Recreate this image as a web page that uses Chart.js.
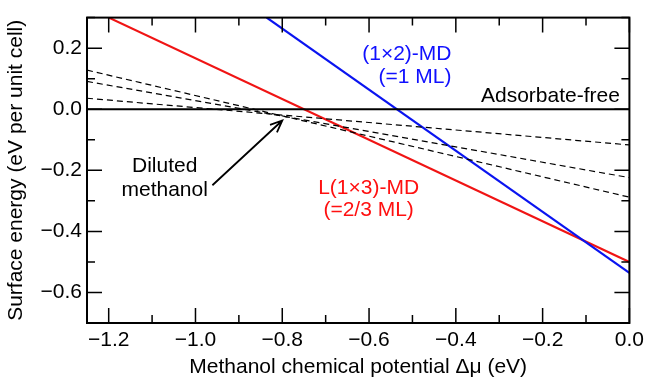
<!DOCTYPE html>
<html>
<head>
<meta charset="utf-8">
<script src="https://cdn.jsdelivr.net/npm/chart.js@4/dist/chart.umd.min.js"></script>
<style>
  html, body { margin: 0; padding: 0; background: #fff; }
  canvas { display: block; }
</style>
</head>
<body>
<canvas id="c" width="649" height="377"></canvas>
<script>
// axis ticks
const xTickVals = [-1.2, -1.0, -0.8, -0.6, -0.4, -0.2, 0.0];
const xTickLabels = ["\u22121.2", "\u22121.0", "\u22120.8", "\u22120.6", "\u22120.4", "\u22120.2", "0.0"];
const xMinorVals = [-1.1, -0.9, -0.7, -0.5, -0.3, -0.1];
const yTickVals = [0.2, 0.0, -0.2, -0.4, -0.6];
const yTickLabels = ["0.2", "0.0", "\u22120.2", "\u22120.4", "\u22120.6"];
const yMinorVals = [0.3, 0.1, -0.1, -0.3, -0.5];

// lines (end points)
const cleanX = [-1.25, 0.0];
const cleanY = [0.0, 0.0];
const mdX = [-0.836, 0.0];          // (1x2)-MD
const mdY = [0.3, -0.536];
const l13X = [-1.2, 0.0];           // L(1x3)-MD
const l13Y = [0.3, -0.5];
const dilX = [-1.25, 0.0];          // diluted methanol
const dilA = [0.128, -0.288];
const dilB = [0.091, -0.224];
const dilC = [0.036, -0.117];

const FONT = '"Liberation Sans", Arial, Helvetica, sans-serif';

function pts(xs, ys) {
  return xs.map((x, i) => ({ x: x, y: ys[i] }));
}

function line(xs, ys, color, width, dash) {
  return {
    data: pts(xs, ys),
    borderColor: color,
    borderWidth: width,
    borderDash: dash || [],
    pointRadius: 0,
    fill: false,
    tension: 0
  };
}

const decor = {
  id: "decor",
  afterDatasetsDraw(chart) {
    const { ctx, chartArea: a, scales: { x, y } } = chart;
    ctx.save();
    ctx.strokeStyle = "#000";
    ctx.lineWidth = 1.5;
    ctx.beginPath();
    const tick = (vals, len) => {
      vals.forEach(v => {
        const px = x.getPixelForValue(v);
        ctx.moveTo(px, a.bottom); ctx.lineTo(px, a.bottom - len);
        ctx.moveTo(px, a.top); ctx.lineTo(px, a.top + len);
      });
    };
    const ytick = (vals, len) => {
      vals.forEach(v => {
        const py = y.getPixelForValue(v);
        ctx.moveTo(a.left, py); ctx.lineTo(a.left + len, py);
        ctx.moveTo(a.right, py); ctx.lineTo(a.right - len, py);
      });
    };
    tick(xTickVals, 15); tick(xMinorVals, 8);
    ytick(yTickVals, 15); ytick(yMinorVals, 8);
    ctx.stroke();

    ctx.lineWidth = 2;
    ctx.strokeRect(a.left, a.top, a.right - a.left, a.bottom - a.top);

    // labels
    ctx.font = "21px " + FONT;
    ctx.textBaseline = "alphabetic";
    const txt = (s, vx, vy, align, color) => {
      ctx.fillStyle = color;
      ctx.textAlign = align;
      ctx.fillText(s, x.getPixelForValue(vx), y.getPixelForValue(vy));
    };
    txt("Adsorbate-free", -0.022, 0.023, "right", "#000");
    txt("(1\u00d72)-MD", -0.41, 0.161, "right", "#1010ff");
    txt("(=1 ML)", -0.41, 0.086, "right", "#1010ff");
    txt("L(1\u00d73)-MD", -0.601, -0.277, "center", "#ff1010");
    txt("(=2/3 ML)", -0.601, -0.349, "center", "#ff1010");
    txt("Diluted", -1.071, -0.204, "center", "#000");
    txt("methanol", -1.071, -0.285, "center", "#000");

    // arrow
    const x0 = x.getPixelForValue(-0.961), y0 = y.getPixelForValue(-0.249);
    const x1 = x.getPixelForValue(-0.8), y1 = y.getPixelForValue(-0.037);
    const ang = Math.atan2(y1 - y0, x1 - x0);
    ctx.lineWidth = 1.8;
    ctx.beginPath();
    ctx.moveTo(x0, y0); ctx.lineTo(x1, y1);
    ctx.moveTo(x1 - 13 * Math.cos(ang - 0.4), y1 - 13 * Math.sin(ang - 0.4));
    ctx.lineTo(x1, y1);
    ctx.lineTo(x1 - 13 * Math.cos(ang + 0.4), y1 - 13 * Math.sin(ang + 0.4));
    ctx.stroke();
    ctx.restore();
  }
};

new Chart(document.getElementById("c"), {
  type: "line",
  data: {
    datasets: [
      line(dilX, dilA, "#000", 1.2, [6, 4]),
      line(dilX, dilB, "#000", 1.2, [6, 4]),
      line(dilX, dilC, "#000", 1.2, [6, 4]),
      line(cleanX, cleanY, "#000", 2),
      line(mdX, mdY, "#0a14f0", 2.2),
      line(l13X, l13Y, "#f01414", 2.2)
    ]
  },
  options: {
    responsive: false,
    animation: false,
    devicePixelRatio: 1,
    layout: { padding: { top: 12, right: 18, left: 0, bottom: 0 } },
    plugins: { legend: { display: false }, tooltip: { enabled: false } },
    scales: {
      x: {
        type: "linear",
        min: -1.25,
        max: 0,
        grid: { display: false, drawTicks: false },
        border: { display: false },
        afterBuildTicks: s => { s.ticks = xTickVals.map(v => ({ value: v })); },
        afterFit: s => { s.height = 54; },
        ticks: {
          padding: 5,
          color: "#000",
          font: { family: FONT, size: 21 },
          maxRotation: 0,
          autoSkip: false,
          callback: (v, i) => xTickLabels[i]
        },
        title: {
          display: true,
          text: "Methanol chemical potential \u0394\u03bc (eV)",
          color: "#000",
          font: { family: FONT, size: 21 },
          padding: { top: 0, bottom: -3 }
        }
      },
      y: {
        type: "linear",
        min: -0.7,
        max: 0.3,
        grid: { display: false, drawTicks: false },
        border: { display: false },
        afterBuildTicks: s => { s.ticks = yTickVals.map(v => ({ value: v })); },
        afterFit: s => { s.width = 87; },
        ticks: {
          padding: 5,
          color: "#000",
          font: { family: FONT, size: 21 },
          autoSkip: false,
          callback: (v, i) => yTickLabels[i]
        },
        title: {
          display: true,
          text: "Surface energy (eV per unit cell)",
          color: "#000",
          font: { family: FONT, size: 21 },
          padding: { top: 4, bottom: 0 }
        }
      }
    }
  },
  plugins: [decor]
});
</script>
</body>
</html>
